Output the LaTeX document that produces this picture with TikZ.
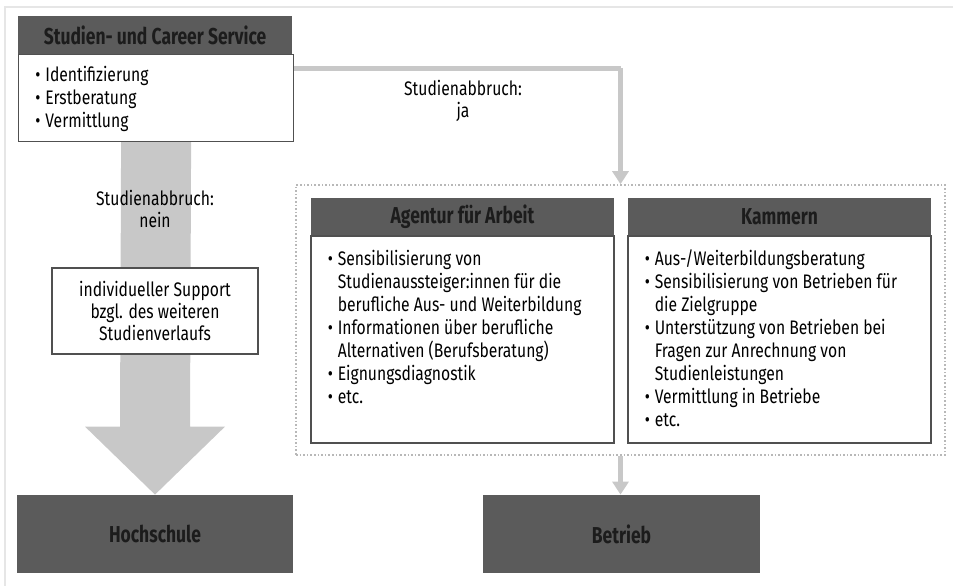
\documentclass[tikz,border=0pt]{standalone}
\usepackage{fontspec}
\setmainfont[FakeStretch=0.80]{Fira Sans}
\newfontfamily\headfont[FakeStretch=0.76]{Fira Sans}
\usepackage{xcolor}
\usepackage{tikz}
\usetikzlibrary{arrows.meta,positioning,calc}

\definecolor{headgray}{HTML}{5B5B5B}
\definecolor{headtext}{HTML}{1C1C1C}
\definecolor{flowgray}{HTML}{C8C8C8}
\definecolor{boxline}{HTML}{505050}
\definecolor{framegray}{HTML}{B8B8B8}
\definecolor{pagegray}{HTML}{E6E6E6}

\newcommand{\bul}{\makebox[5pt][l]{\textbullet}}
\newcommand{\ind}{\hspace*{5pt}}

\begin{document}
\begin{tikzpicture}[
    x=0.5pt, y=-0.5pt,
    font=\fontsize{9.8}{11.5}\selectfont, text=black,
    % header bars and end boxes
    head/.style={rectangle, fill=headgray, text=headtext, inner sep=0pt,
        font=\headfont\bfseries\fontsize{11.5}{12}\selectfont},
    bodybox/.style={rectangle, draw=boxline, fill=white, line width=0.6pt, inner sep=0pt},
    itemtext/.style={anchor=north west, align=left, inner sep=0pt},
    label/.style={align=center, inner sep=0pt, font=\fontsize{9.8}{11}\selectfont},
    flow/.style={draw=flowgray, line width=2.5pt, -{Triangle[width=8pt,length=6.5pt]}}
]
    \useasboundingbox (0,0) rectangle (953,586);
    \draw[pagegray, line width=1pt] (5,586) -- (5,7) -- (953,7);

    % --- Left column ---
    \node[head, minimum width=137pt, minimum height=19pt] (scshead) at (155,35)
        {Studien- und Career Service};
    \node[bodybox, minimum width=137.5pt, minimum height=43.5pt, anchor=north west]
        (scsbody) at (18,54) {};
    \node[itemtext] (scstext) at ($(scsbody.north west)+(17,12)$)
        {\bul Identifizierung\\ \bul Erstberatung\\ \bul Vermittlung};

    \node[head, minimum width=138pt, minimum height=39pt] (hochschule) at (155,534) {Hochschule};

    % big arrow down to Hochschule
    \fill[flowgray] ($(scsbody.south)+(-35,0)$) -- ($(scsbody.south)+(35,0)$)
        -- ($(hochschule.north)+(35,-68)$) -- ($(hochschule.north)+(70,-68)$)
        -- (hochschule.north) -- ($(hochschule.north)+(-70,-68)$)
        -- ($(hochschule.north)+(-35,-68)$) -- cycle;

    \node[label] (nein) at (155,209) {Studienabbruch:\\nein};
    \node[bodybox, minimum width=103pt, minimum height=43pt, align=center,
        font=\fontsize{9.8}{11}\selectfont] (support) at (155,311)
        {individueller Support\\bzgl. des weiteren\\Studienverlaufs};

    % --- Right column ---
    \node[draw=framegray, densely dotted, line width=0.8pt, minimum width=324.5pt,
        minimum height=135pt, inner sep=0pt] (frame) at (620.5,320) {};

    \node[head, minimum width=151.5pt, minimum height=18.5pt] (aahead) at (462.5,216.5)
        {Agentur für Arbeit};
    \node[bodybox, minimum width=151.5pt, minimum height=103.5pt, anchor=north]
        (aabody) at (aahead.south) {};
    \node[itemtext] (aatext) at ($(aabody.north west)+(17,14)$)
        {\bul Sensibilisierung von\\ \ind Studienaussteiger:innen für die\\
         \ind berufliche Aus- und Weiterbildung\\ \bul Informationen über berufliche\\
         \ind Alternativen (Berufsberatung)\\ \bul Eignungsdiagnostik\\ \bul etc.};

    \node[head, minimum width=151.5pt, minimum height=18.5pt] (kahead) at (779.5,216.5)
        {Kammern};
    \node[bodybox, minimum width=151.5pt, minimum height=103.5pt, anchor=north]
        (kabody) at (kahead.south) {};
    \node[itemtext] (katext) at ($(kabody.north west)+(17,14)$)
        {\bul Aus-/Weiterbildungsberatung\\ \bul Sensibilisierung von Betrieben für\\
         \ind die Zielgruppe\\ \bul Unterstützung von Betrieben bei\\
         \ind Fragen zur Anrechnung von\\ \ind Studienleistungen\\
         \bul Vermittlung in Betriebe\\ \bul etc.};

    \node[head, minimum width=138.5pt, minimum height=39pt] (betrieb) at (621.5,534) {Betrieb};

    % --- Connectors ---
    \coordinate (jacorner) at ($(frame.north)+(0,-117)$);
    \draw[flow, -] ($(scsbody.north east)+(0,14)$) -- (jacorner |- {$(scsbody.north east)+(0,14)$});
    \draw[flow] (jacorner |- {$(scsbody.north east)+(0,14)$}) -- (jacorner |- frame.north);
    \node[label] (ja) at (463,101) {Studienabbruch:\\ja};
    \draw[flow] (frame.south -| jacorner) -- (betrieb.north -| jacorner);
\end{tikzpicture}
\end{document}
